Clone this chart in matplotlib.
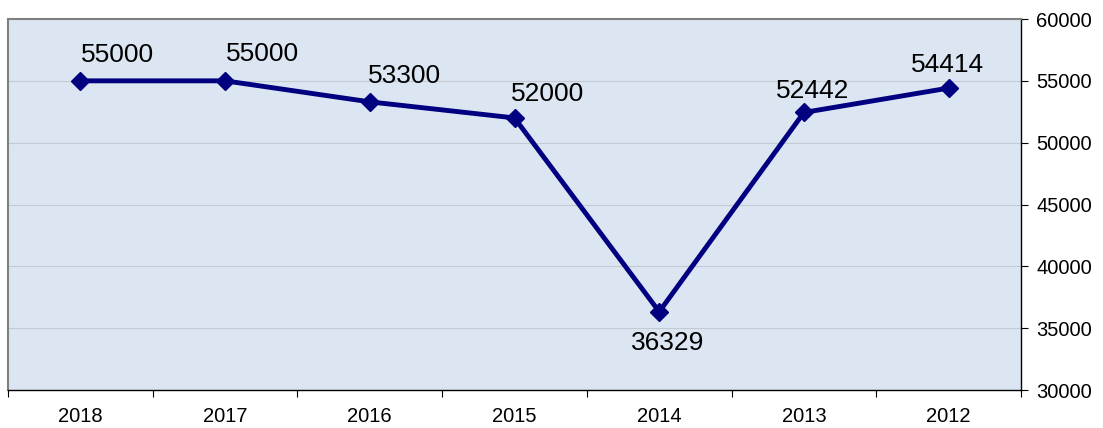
import numpy as np
import matplotlib
matplotlib.use('Agg')
import matplotlib.pyplot as plt

plt.rcParams['font.family'] = ['Liberation Sans', 'DejaVu Sans']

years = ['2018', '2017', '2016', '2015', '2014', '2013', '2012']
values = [55000, 55000, 53300, 52000, 36329, 52442, 54414]
# label offsets in px (dx, dy) relative to each marker
label_dx = [37, 37, 35, 33, 8, 9, -1]
label_dy = [26, 27, 26, 24, -31, 21, 23]

fig = plt.figure(figsize=(11.03, 4.28), dpi=100)
ax = fig.add_axes([8 / 1103, 1 - 390 / 428, 1013 / 1103, 371 / 428])
ax.set_facecolor('#DCE6F2')

x = np.arange(len(years))
ax.plot(x, values, color='#000080', lw=3.5, marker='D', ms=9.5, zorder=3,
        clip_on=False)
for i, v in enumerate(values):
    ax.annotate(str(v), (x[i], v), xytext=(label_dx[i] * 0.72, label_dy[i] * 0.72),
                textcoords='offset points', ha='center', va='center',
                fontsize=19, color='black')

ax.set_xlim(-0.5, len(years) - 0.5)
ax.set_ylim(30000, 60000)
ax.set_yticks(np.arange(30000, 60001, 5000))
ax.yaxis.tick_right()
ax.tick_params(axis='y', labelsize=14.5, length=5, width=0.8, direction='out',
               pad=6, colors='black')
ax.set_xticks(x)
ax.set_xticklabels(years)
ax.set_xticks(np.arange(-0.5, len(years), 1), minor=True)
ax.tick_params(axis='x', which='major', length=0, labelsize=14.5, pad=12)
ax.tick_params(axis='x', which='minor', length=5, width=0.8, direction='out')
ax.grid(axis='y', color='#C4CAD2', lw=0.8)
ax.set_axisbelow(True)

for s in ['top', 'left']:
    ax.spines[s].set_color('#808080')
    ax.spines[s].set_linewidth(1.5)
for s in ['right', 'bottom']:
    ax.spines[s].set_color('black')
    ax.spines[s].set_linewidth(1.0)

fig.savefig('out.png', dpi=100)
